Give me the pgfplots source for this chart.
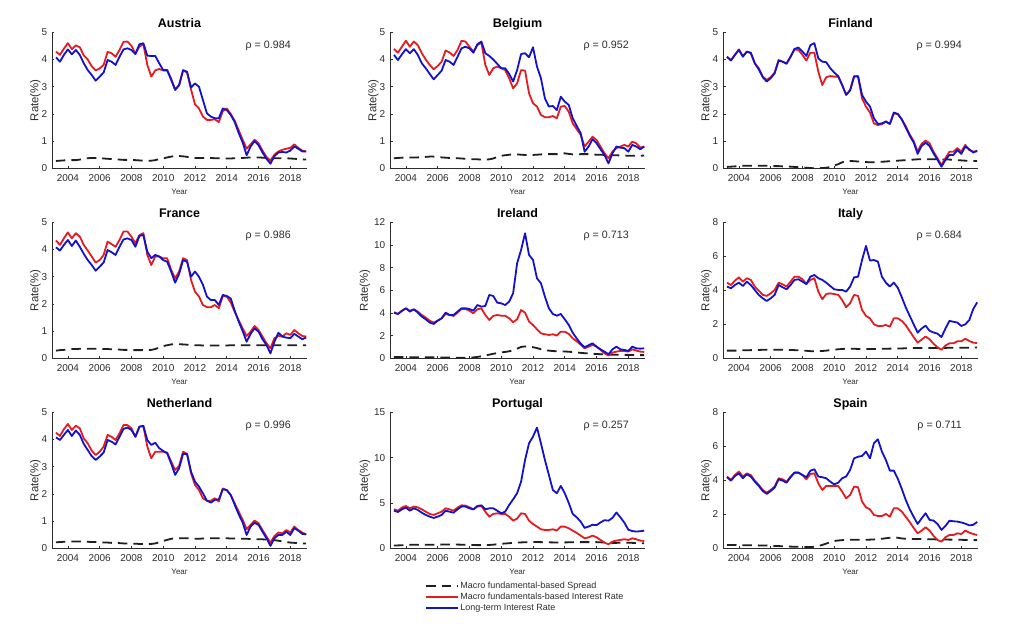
\documentclass[border=0pt]{standalone}
\usepackage{fontspec}
\setmainfont{Liberation Sans}
\usepackage{pgfplots}
\pgfplotsset{compat=1.18}
\usepackage{pgfplotstable}
\definecolor{myred}{RGB}{228,28,32}
\definecolor{myblue}{RGB}{18,18,205}
\definecolor{axgray}{RGB}{45,45,45}

\pgfplotstableread{
x s m l
2003.25 0.27 4.29 4.08
2003.5 0.28 4.17 3.92
2003.75 0.29 4.40 4.17
2004 0.30 4.60 4.37
2004.25 0.30 4.38 4.19
2004.5 0.30 4.52 4.35
2004.75 0.32 4.45 4.17
2005 0.35 4.15 3.86
2005.25 0.37 4.00 3.61
2005.5 0.38 3.75 3.43
2005.75 0.38 3.60 3.22
2006 0.38 3.67 3.37
2006.25 0.36 3.80 3.52
2006.5 0.35 4.28 3.98
2006.75 0.34 4.23 3.92
2007 0.33 4.10 3.80
2007.25 0.32 4.35 4.10
2007.5 0.31 4.65 4.37
2007.75 0.31 4.66 4.41
2008 0.30 4.50 4.35
2008.25 0.30 4.22 4.20
2008.5 0.29 4.47 4.56
2008.75 0.28 4.57 4.60
2009 0.28 3.80 4.14
2009.25 0.28 3.37 4.13
2009.5 0.30 3.60 4.13
2009.75 0.34 3.65 3.86
2010 0.36 3.60 3.61
2010.25 0.40 3.60 3.61
2010.5 0.43 3.30 3.25
2010.75 0.45 2.90 2.88
2011 0.45 3.05 3.06
2011.25 0.44 3.60 3.61
2011.5 0.42 3.52 3.55
2011.75 0.40 2.90 2.97
2012 0.38 2.35 3.12
2012.25 0.38 2.20 3.00
2012.5 0.38 1.90 2.51
2012.75 0.38 1.78 2.02
2013 0.38 1.78 1.90
2013.25 0.37 1.80 1.84
2013.5 0.37 1.70 1.84
2013.75 0.36 2.10 2.20
2014 0.36 2.20 2.14
2014.25 0.36 2.00 1.96
2014.5 0.37 1.75 1.70
2014.75 0.37 1.40 1.30
2015 0.38 1.05 0.95
2015.25 0.39 0.72 0.48
2015.5 0.40 0.88 0.80
2015.75 0.40 1.05 1.00
2016 0.40 0.92 0.85
2016.25 0.39 0.65 0.58
2016.5 0.38 0.42 0.35
2016.75 0.37 0.28 0.17
2017 0.37 0.50 0.45
2017.25 0.37 0.62 0.58
2017.5 0.37 0.68 0.60
2017.75 0.37 0.72 0.58
2018 0.36 0.75 0.65
2018.25 0.35 0.88 0.80
2018.5 0.34 0.75 0.72
2018.75 0.33 0.65 0.62
2019 0.32 0.62 0.62
}\tabAT

\pgfplotstableread{
x s m l
2003.25 0.37 4.39 4.17
2003.5 0.38 4.25 3.98
2003.75 0.39 4.47 4.19
2004 0.40 4.69 4.38
2004.25 0.40 4.47 4.23
2004.5 0.40 4.66 4.38
2004.75 0.40 4.53 4.17
2005 0.41 4.23 3.86
2005.25 0.42 4.00 3.68
2005.5 0.43 3.80 3.47
2005.75 0.43 3.64 3.27
2006 0.42 3.76 3.43
2006.25 0.40 3.92 3.59
2006.5 0.39 4.33 3.98
2006.75 0.38 4.26 3.92
2007 0.38 4.13 3.80
2007.25 0.37 4.35 4.10
2007.5 0.36 4.69 4.41
2007.75 0.35 4.66 4.47
2008 0.34 4.47 4.41
2008.25 0.33 4.29 4.25
2008.5 0.33 4.53 4.56
2008.75 0.32 4.62 4.66
2009 0.32 3.80 4.23
2009.25 0.33 3.43 4.13
2009.5 0.36 3.68 4.00
2009.75 0.42 3.74 3.84
2010 0.46 3.68 3.68
2010.25 0.48 3.61 3.68
2010.5 0.50 3.31 3.47
2010.75 0.51 2.94 3.19
2011 0.51 3.12 3.61
2011.25 0.50 3.61 4.20
2011.5 0.49 3.59 4.23
2011.75 0.48 2.76 4.08
2012 0.49 2.39 4.45
2012.25 0.50 2.27 3.74
2012.5 0.51 1.96 3.31
2012.75 0.52 1.88 2.57
2013 0.52 1.88 2.27
2013.25 0.52 1.92 2.29
2013.5 0.52 1.84 2.14
2013.75 0.53 2.27 2.63
2014 0.55 2.29 2.45
2014.25 0.53 2.08 2.33
2014.5 0.51 1.65 1.84
2014.75 0.51 1.44 1.56
2015 0.52 1.23 1.29
2015.25 0.52 0.80 0.61
2015.5 0.52 0.98 0.80
2015.75 0.51 1.16 1.07
2016 0.50 1.04 0.92
2016.25 0.50 0.80 0.70
2016.5 0.49 0.55 0.49
2016.75 0.49 0.37 0.18
2017 0.48 0.61 0.55
2017.25 0.48 0.74 0.80
2017.5 0.47 0.80 0.76
2017.75 0.47 0.86 0.74
2018 0.46 0.80 0.61
2018.25 0.46 0.98 0.86
2018.5 0.46 0.92 0.80
2018.75 0.46 0.76 0.70
2019 0.47 0.80 0.80
}\tabBE

\pgfplotstableread{
x s m l
2003.25 0.05 4.10 4.10
2003.5 0.06 3.98 3.96
2003.75 0.07 4.17 4.17
2004 0.08 4.37 4.35
2004.25 0.09 4.13 4.10
2004.5 0.09 4.29 4.29
2004.75 0.09 4.23 4.25
2005 0.09 3.86 3.86
2005.25 0.09 3.68 3.64
2005.5 0.09 3.37 3.35
2005.75 0.09 3.25 3.19
2006 0.09 3.35 3.31
2006.25 0.08 3.52 3.49
2006.5 0.08 3.98 3.96
2006.75 0.07 3.92 3.92
2007 0.07 3.86 3.84
2007.25 0.06 4.10 4.10
2007.5 0.05 4.37 4.39
2007.75 0.04 4.35 4.44
2008 0.03 4.17 4.29
2008.25 0.02 3.96 4.13
2008.5 0.01 4.25 4.53
2008.75 0.00 4.25 4.60
2009 0.00 3.55 4.04
2009.25 0.01 3.06 3.92
2009.5 0.02 3.35 3.90
2009.75 0.05 3.39 3.68
2010 0.10 3.37 3.52
2010.25 0.15 3.37 3.39
2010.5 0.22 3.06 3.06
2010.75 0.27 2.70 2.70
2011 0.27 2.88 2.86
2011.25 0.26 3.39 3.37
2011.5 0.25 3.37 3.39
2011.75 0.24 2.57 2.70
2012 0.23 2.27 2.45
2012.25 0.22 2.05 2.27
2012.5 0.22 1.65 1.84
2012.75 0.23 1.59 1.63
2013 0.24 1.62 1.65
2013.25 0.25 1.72 1.72
2013.5 0.26 1.63 1.63
2013.75 0.27 2.02 2.05
2014 0.28 1.99 2.00
2014.25 0.29 1.80 1.80
2014.5 0.30 1.55 1.50
2014.75 0.31 1.25 1.20
2015 0.32 1.00 0.95
2015.25 0.33 0.62 0.53
2015.5 0.33 0.90 0.82
2015.75 0.33 1.02 0.94
2016 0.33 0.92 0.82
2016.25 0.33 0.61 0.55
2016.5 0.33 0.37 0.31
2016.75 0.33 0.12 0.06
2017 0.32 0.37 0.31
2017.25 0.32 0.61 0.49
2017.5 0.31 0.61 0.49
2017.75 0.30 0.74 0.67
2018 0.29 0.61 0.53
2018.25 0.28 0.86 0.80
2018.5 0.28 0.67 0.70
2018.75 0.27 0.61 0.58
2019 0.27 0.62 0.65
}\tabFI

\pgfplotstableread{
x s m l
2003.25 0.28 4.33 4.08
2003.5 0.30 4.17 3.96
2003.75 0.31 4.41 4.17
2004 0.33 4.63 4.35
2004.25 0.34 4.41 4.13
2004.5 0.34 4.60 4.33
2004.75 0.35 4.47 4.10
2005 0.35 4.17 3.84
2005.25 0.35 3.96 3.61
2005.5 0.35 3.74 3.43
2005.75 0.35 3.52 3.22
2006 0.35 3.61 3.37
2006.25 0.34 3.80 3.52
2006.5 0.34 4.29 3.98
2006.75 0.33 4.20 3.90
2007 0.33 4.10 3.80
2007.25 0.32 4.35 4.10
2007.5 0.31 4.66 4.37
2007.75 0.31 4.66 4.41
2008 0.30 4.47 4.35
2008.25 0.30 4.23 4.10
2008.5 0.30 4.53 4.50
2008.75 0.30 4.60 4.53
2009 0.30 3.80 3.92
2009.25 0.31 3.43 3.68
2009.5 0.34 3.74 3.80
2009.75 0.40 3.74 3.74
2010 0.45 3.68 3.61
2010.25 0.48 3.68 3.55
2010.5 0.51 3.25 3.19
2010.75 0.52 2.94 2.78
2011 0.52 3.19 3.10
2011.25 0.51 3.68 3.61
2011.5 0.50 3.61 3.55
2011.75 0.49 2.88 3.00
2012 0.48 2.45 3.19
2012.25 0.48 2.27 3.00
2012.5 0.47 1.96 2.70
2012.75 0.47 1.88 2.27
2013 0.47 1.88 2.14
2013.25 0.47 1.96 2.14
2013.5 0.47 1.84 1.96
2013.75 0.47 2.29 2.33
2014 0.47 2.27 2.29
2014.25 0.48 2.05 2.20
2014.5 0.48 1.70 1.75
2014.75 0.48 1.40 1.35
2015 0.48 1.10 1.00
2015.25 0.48 0.82 0.61
2015.5 0.48 0.98 0.90
2015.75 0.48 1.19 1.10
2016 0.48 1.04 0.98
2016.25 0.48 0.80 0.70
2016.5 0.48 0.55 0.49
2016.75 0.48 0.37 0.18
2017 0.48 0.74 0.61
2017.25 0.48 0.82 0.94
2017.5 0.48 0.80 0.80
2017.75 0.48 0.92 0.76
2018 0.48 0.86 0.74
2018.25 0.48 1.04 0.90
2018.5 0.48 0.92 0.80
2018.75 0.48 0.82 0.70
2019 0.48 0.80 0.77
}\tabFR

\pgfplotstableread{
x s m l
2003.25 0.12 4.06 4.03
2003.5 0.12 3.91 3.91
2003.75 0.11 4.20 4.18
2004 0.10 4.41 4.41
2004.25 0.10 4.20 4.12
2004.5 0.09 4.32 4.32
2004.75 0.09 4.12 4.03
2005 0.08 3.82 3.68
2005.25 0.08 3.59 3.44
2005.5 0.08 3.32 3.15
2005.75 0.08 3.15 3.03
2006 0.08 3.32 3.32
2006.25 0.07 3.53 3.53
2006.5 0.07 3.91 4.03
2006.75 0.06 3.82 3.82
2007 0.05 3.74 3.82
2007.25 0.05 4.03 4.12
2007.5 0.05 4.35 4.41
2007.75 0.05 4.35 4.41
2008 0.06 4.20 4.35
2008.25 0.08 3.97 4.20
2008.5 0.12 4.32 4.70
2008.75 0.18 4.41 4.56
2009 0.25 3.82 4.62
2009.25 0.32 3.38 5.59
2009.5 0.40 3.74 5.50
2009.75 0.46 3.82 4.91
2010 0.52 3.76 4.85
2010.25 0.56 3.76 4.70
2010.5 0.62 3.53 5.00
2010.75 0.72 3.18 5.74
2011 0.85 3.44 8.38
2011.25 1.00 4.26 9.56
2011.5 1.05 4.03 11.03
2011.75 1.02 3.24 9.12
2012 0.98 2.94 8.68
2012.25 0.90 2.56 7.06
2012.5 0.80 2.20 6.62
2012.75 0.72 2.12 5.44
2013 0.68 2.06 4.41
2013.25 0.64 2.12 3.91
2013.5 0.62 2.00 3.76
2013.75 0.61 2.35 3.91
2014 0.60 2.35 3.44
2014.25 0.58 2.15 2.94
2014.5 0.55 1.76 2.26
2014.75 0.51 1.50 1.75
2015 0.48 1.20 1.30
2015.25 0.45 0.88 0.97
2015.5 0.43 1.03 1.15
2015.75 0.40 1.18 1.32
2016 0.38 1.03 1.03
2016.25 0.36 0.74 0.79
2016.5 0.34 0.44 0.59
2016.75 0.33 0.24 0.35
2017 0.32 0.50 0.79
2017.25 0.31 0.59 1.03
2017.5 0.30 0.65 0.79
2017.75 0.30 0.65 0.74
2018 0.30 0.59 0.65
2018.25 0.29 0.79 1.03
2018.5 0.29 0.68 0.88
2018.75 0.28 0.59 0.85
2019 0.28 0.56 0.88
}\tabIE

\pgfplotstableread{
x s m l
2003.25 0.45 4.45 4.22
2003.5 0.45 4.31 4.12
2003.75 0.45 4.57 4.31
2004 0.46 4.76 4.45
2004.25 0.47 4.51 4.25
2004.5 0.47 4.71 4.51
2004.75 0.48 4.61 4.31
2005 0.48 4.22 4.02
2005.25 0.49 3.98 3.73
2005.5 0.50 3.73 3.53
2005.75 0.50 3.67 3.37
2006 0.50 3.82 3.53
2006.25 0.50 4.02 3.73
2006.5 0.50 4.45 4.31
2006.75 0.50 4.35 4.18
2007 0.50 4.22 4.06
2007.25 0.49 4.51 4.31
2007.5 0.48 4.80 4.61
2007.75 0.47 4.80 4.65
2008 0.46 4.65 4.51
2008.25 0.44 4.37 4.37
2008.5 0.42 4.61 4.80
2008.75 0.42 4.71 4.90
2009 0.42 3.92 4.71
2009.25 0.43 3.47 4.61
2009.5 0.45 3.78 4.45
2009.75 0.48 3.82 4.25
2010 0.51 3.78 4.06
2010.25 0.53 3.73 4.02
2010.5 0.55 3.43 4.02
2010.75 0.56 3.00 3.92
2011 0.56 3.24 4.22
2011.25 0.56 3.73 4.76
2011.5 0.55 3.67 4.80
2011.75 0.55 2.84 5.78
2012 0.55 2.49 6.61
2012.25 0.55 2.35 5.75
2012.5 0.55 2.00 5.78
2012.75 0.55 1.90 5.69
2013 0.56 1.90 4.80
2013.25 0.56 1.96 4.45
2013.5 0.57 1.86 4.22
2013.75 0.57 2.35 4.45
2014 0.58 2.35 4.15
2014.25 0.58 2.20 3.60
2014.5 0.59 1.95 3.00
2014.75 0.59 1.60 2.50
2015 0.60 1.25 2.00
2015.25 0.60 0.92 1.51
2015.5 0.60 1.10 1.75
2015.75 0.60 1.28 1.92
2016 0.60 1.12 1.62
2016.25 0.60 0.85 1.52
2016.5 0.61 0.65 1.45
2016.75 0.61 0.50 1.25
2017 0.61 0.75 1.75
2017.25 0.62 0.88 2.20
2017.5 0.62 0.88 2.15
2017.75 0.62 1.00 2.10
2018 0.62 1.00 1.90
2018.25 0.62 1.15 2.00
2018.5 0.62 1.02 2.25
2018.75 0.63 0.92 2.90
2019 0.63 0.90 3.29
}\tabIT

\pgfplotstableread{
x s m l
2003.25 0.22 4.25 4.08
2003.5 0.23 4.13 3.98
2003.75 0.24 4.38 4.17
2004 0.24 4.57 4.35
2004.25 0.25 4.35 4.13
2004.5 0.25 4.51 4.33
2004.75 0.25 4.41 4.17
2005 0.25 4.04 3.84
2005.25 0.24 3.86 3.61
2005.5 0.23 3.59 3.39
2005.75 0.23 3.43 3.25
2006 0.22 3.55 3.37
2006.25 0.21 3.74 3.52
2006.5 0.21 4.17 3.98
2006.75 0.20 4.10 3.92
2007 0.20 3.98 3.82
2007.25 0.19 4.23 4.10
2007.5 0.18 4.53 4.39
2007.75 0.18 4.53 4.44
2008 0.17 4.41 4.35
2008.25 0.17 4.10 4.10
2008.5 0.16 4.47 4.47
2008.75 0.16 4.50 4.50
2009 0.15 3.74 3.98
2009.25 0.16 3.31 3.80
2009.5 0.18 3.55 3.88
2009.75 0.22 3.55 3.68
2010 0.27 3.55 3.58
2010.25 0.31 3.52 3.49
2010.5 0.35 3.19 3.12
2010.75 0.37 2.88 2.70
2011 0.37 3.03 2.94
2011.25 0.37 3.55 3.47
2011.5 0.37 3.47 3.47
2011.75 0.36 2.76 2.82
2012 0.35 2.33 2.45
2012.25 0.35 2.14 2.27
2012.5 0.36 1.84 2.02
2012.75 0.36 1.75 1.75
2013 0.37 1.75 1.68
2013.25 0.37 1.84 1.78
2013.5 0.37 1.72 1.80
2013.75 0.37 2.20 2.17
2014 0.37 2.14 2.14
2014.25 0.36 1.96 1.96
2014.5 0.36 1.65 1.60
2014.75 0.35 1.35 1.25
2015 0.35 1.05 0.95
2015.25 0.35 0.70 0.49
2015.5 0.34 0.86 0.80
2015.75 0.34 1.02 0.94
2016 0.33 0.92 0.86
2016.25 0.33 0.67 0.61
2016.5 0.32 0.43 0.37
2016.75 0.31 0.21 0.09
2017 0.30 0.45 0.37
2017.25 0.28 0.58 0.49
2017.5 0.25 0.55 0.49
2017.75 0.23 0.67 0.61
2018 0.21 0.58 0.49
2018.25 0.20 0.80 0.74
2018.5 0.19 0.67 0.65
2018.75 0.18 0.58 0.53
2019 0.18 0.51 0.51
}\tabNL

\pgfplotstableread{
x s m l
2003.25 0.30 4.30 4.15
2003.5 0.32 4.15 4.00
2003.75 0.34 4.49 4.30
2004 0.36 4.67 4.49
2004.25 0.38 4.41 4.15
2004.5 0.40 4.60 4.41
2004.75 0.40 4.52 4.23
2005 0.40 4.30 3.93
2005.25 0.40 4.04 3.68
2005.5 0.40 3.79 3.49
2005.75 0.40 3.68 3.35
2006 0.40 3.86 3.49
2006.25 0.41 4.04 3.68
2006.5 0.42 4.41 4.15
2006.75 0.42 4.30 4.04
2007 0.42 4.15 3.93
2007.25 0.41 4.49 4.30
2007.5 0.40 4.74 4.60
2007.75 0.38 4.71 4.60
2008 0.37 4.52 4.41
2008.25 0.36 4.30 4.30
2008.5 0.35 4.60 4.67
2008.75 0.35 4.67 4.74
2009 0.35 4.04 4.30
2009.25 0.37 3.49 4.41
2009.5 0.40 3.79 4.41
2009.75 0.45 3.86 4.15
2010 0.50 3.79 3.86
2010.25 0.53 3.79 4.04
2010.5 0.56 3.49 4.78
2010.75 0.60 3.05 5.40
2011 0.63 3.27 6.07
2011.25 0.65 3.86 7.35
2011.5 0.67 3.79 9.74
2011.75 0.68 3.05 11.58
2012 0.70 2.68 12.32
2012.25 0.69 2.39 13.31
2012.5 0.68 2.10 11.58
2012.75 0.67 2.02 9.74
2013 0.66 2.02 8.09
2013.25 0.65 2.10 6.43
2013.5 0.65 1.95 6.07
2013.75 0.65 2.39 6.88
2014 0.65 2.39 6.07
2014.25 0.66 2.21 5.00
2014.5 0.66 1.95 3.79
2014.75 0.67 1.70 3.42
2015 0.68 1.40 2.94
2015.25 0.68 1.10 2.25
2015.5 0.68 1.21 2.40
2015.75 0.68 1.40 2.60
2016 0.68 1.21 2.55
2016.25 0.66 0.92 2.85
2016.5 0.64 0.63 3.10
2016.75 0.62 0.44 3.05
2017 0.60 0.74 3.35
2017.25 0.60 0.85 3.95
2017.5 0.61 0.92 3.42
2017.75 0.62 1.00 2.83
2018 0.62 0.92 2.05
2018.25 0.60 1.10 1.90
2018.5 0.58 1.00 1.85
2018.75 0.56 0.85 1.88
2019 0.55 0.81 1.95
}\tabPT

\pgfplotstableread{
x s m l
2003.25 0.20 4.22 4.18
2003.5 0.19 4.02 3.98
2003.75 0.19 4.31 4.25
2004 0.18 4.51 4.41
2004.25 0.18 4.22 4.12
2004.5 0.18 4.41 4.35
2004.75 0.18 4.31 4.22
2005 0.18 3.98 3.92
2005.25 0.17 3.73 3.67
2005.5 0.16 3.43 3.37
2005.75 0.16 3.27 3.20
2006 0.15 3.43 3.37
2006.25 0.14 3.63 3.57
2006.5 0.13 4.12 4.06
2006.75 0.12 4.06 3.98
2007 0.11 3.92 3.86
2007.25 0.10 4.22 4.18
2007.5 0.09 4.45 4.45
2007.75 0.09 4.45 4.45
2008 0.08 4.31 4.31
2008.25 0.08 4.06 4.18
2008.5 0.07 4.37 4.57
2008.75 0.09 4.41 4.65
2009 0.13 3.82 4.22
2009.25 0.20 3.43 4.18
2009.5 0.28 3.67 4.12
2009.75 0.36 3.67 3.92
2010 0.43 3.67 3.76
2010.25 0.46 3.67 3.86
2010.5 0.48 3.33 4.12
2010.75 0.49 2.94 4.22
2011 0.50 3.14 4.61
2011.25 0.50 3.63 5.29
2011.5 0.50 3.59 5.39
2011.75 0.50 2.75 5.43
2012 0.50 2.41 5.69
2012.25 0.51 2.29 5.29
2012.5 0.52 1.96 6.18
2012.75 0.54 1.90 6.41
2013 0.56 1.90 5.69
2013.25 0.59 2.02 5.20
2013.5 0.62 1.86 4.57
2013.75 0.65 2.35 4.57
2014 0.62 2.35 4.10
2014.25 0.58 2.16 3.50
2014.5 0.56 1.85 2.85
2014.75 0.55 1.55 2.30
2015 0.55 1.20 1.85
2015.25 0.55 0.88 1.43
2015.5 0.54 1.04 1.76
2015.75 0.54 1.24 2.06
2016 0.53 1.04 1.67
2016.25 0.53 0.73 1.63
2016.5 0.52 0.49 1.43
2016.75 0.52 0.39 1.08
2017 0.52 0.65 1.31
2017.25 0.51 0.78 1.62
2017.5 0.51 0.78 1.59
2017.75 0.50 0.88 1.57
2018 0.50 0.84 1.52
2018.25 0.49 1.04 1.45
2018.5 0.49 0.92 1.35
2018.75 0.48 0.84 1.38
2019 0.48 0.78 1.55
}\tabES

\pgfplotsset{
  panel/.style={
    scale only axis, width=255pt, height=136pt,
    xmin=2003.0, xmax=2019.05, ymin=0,
    axis x line*=bottom, axis y line*=left,
    axis line style={axgray, line width=0.6pt},
    xtick={2004,2006,2008,2010,2012,2014,2016,2018},
    xticklabels={2004,2006,2008,2010,2012,2014,2016,2018},
    tick align=inside, major tick length=2.5pt,
    tick style={axgray, line width=0.6pt},
    /pgf/number format/assume math mode=true,
    tick label style={font=\fontsize{10}{12}\selectfont, text=axgray},
    xticklabel style={yshift=-3pt},
    yticklabel style={xshift=-1.2pt},
    xlabel={Year}, ylabel={Rate(\%)},
    xlabel style={font=\fontsize{8}{9}\selectfont, text=axgray, at={(axis description cs:0.5,0)}, anchor=center, yshift=-23pt},
    ylabel style={font=\fontsize{11.4}{13}\selectfont, text=axgray},
    ylabel shift=-6pt,
    title style={font=\bfseries\fontsize{12.5}{14}\selectfont, at={(axis description cs:0.5,1)}, anchor=base, yshift=-1.5pt, inner sep=0pt},
    every axis plot/.append style={line width=1.8pt, line join=round},
  },
  spr/.style={black!88, dash pattern=on 9.5pt off 6pt},
  mac/.style={myred},
  lt/.style={myblue},
}
\newcommand{\rholab}[1]{\node[anchor=east, font=\fontsize{10.7}{12}\selectfont, text=axgray] at (rel axis cs:0.95,0.9) {ρ = #1};}

\begin{document}
\begin{tikzpicture}
\path[use as bounding box] (0pt,0pt) rectangle (1024pt,623pt);

% Row 1
\begin{axis}[panel, at={(52pt,454.7pt)}, anchor=south west, title={Austria}, ymax=5, ytick={0,1,2,3,4,5}]
\addplot[spr] table[x=x,y=s]{\tabAT};
\addplot[mac] table[x=x,y=m]{\tabAT};
\addplot[lt] table[x=x,y=l]{\tabAT};
\rholab{0.984}
\end{axis}
\begin{axis}[panel, at={(390pt,454.7pt)}, anchor=south west, title={Belgium}, ymax=5, ytick={0,1,2,3,4,5}]
\addplot[spr] table[x=x,y=s]{\tabBE};
\addplot[mac] table[x=x,y=m]{\tabBE};
\addplot[lt] table[x=x,y=l]{\tabBE};
\rholab{0.952}
\end{axis}
\begin{axis}[panel, at={(723pt,454.7pt)}, anchor=south west, title={Finland}, ymax=5, ytick={0,1,2,3,4,5}]
\addplot[spr] table[x=x,y=s]{\tabFI};
\addplot[mac] table[x=x,y=m]{\tabFI};
\addplot[lt] table[x=x,y=l]{\tabFI};
\rholab{0.994}
\end{axis}

% Row 2
\begin{axis}[panel, at={(52pt,264.7pt)}, anchor=south west, title={France}, ymax=5, ytick={0,1,2,3,4,5}]
\addplot[spr] table[x=x,y=s]{\tabFR};
\addplot[mac] table[x=x,y=m]{\tabFR};
\addplot[lt] table[x=x,y=l]{\tabFR};
\rholab{0.986}
\end{axis}
\begin{axis}[panel, at={(390pt,264.7pt)}, anchor=south west, title={Ireland}, ymax=12, ytick={0,2,4,6,8,10,12}, ylabel shift=-3pt]
\addplot[spr] table[x=x,y=s]{\tabIE};
\addplot[mac] table[x=x,y=m]{\tabIE};
\addplot[lt] table[x=x,y=l]{\tabIE};
\rholab{0.713}
\end{axis}
\begin{axis}[panel, at={(723pt,264.7pt)}, anchor=south west, title={Italy}, ymax=8, ytick={0,2,4,6,8}]
\addplot[spr] table[x=x,y=s]{\tabIT};
\addplot[mac] table[x=x,y=m]{\tabIT};
\addplot[lt] table[x=x,y=l]{\tabIT};
\rholab{0.684}
\end{axis}

% Row 3
\begin{axis}[panel, at={(52pt,74.7pt)}, anchor=south west, title={Netherland}, ymax=5, ytick={0,1,2,3,4,5}]
\addplot[spr] table[x=x,y=s]{\tabNL};
\addplot[mac] table[x=x,y=m]{\tabNL};
\addplot[lt] table[x=x,y=l]{\tabNL};
\rholab{0.996}
\end{axis}
\begin{axis}[panel, at={(390pt,74.7pt)}, anchor=south west, title={Portugal}, ymax=15, ytick={0,5,10,15}, ylabel shift=-3pt,
  legend cell align=left,
  legend style={at={(axis description cs:0.138,-0.235)}, anchor=north west, draw=none, fill=none,
    font=\fontsize{9}{10.5}\selectfont, text=axgray, row sep=0.8pt, inner sep=0pt,
    nodes={inner sep=1.2pt}},
  legend image code/.code={\draw[line width=1.8pt,#1] (0pt,0pt) -- (32pt,0pt);}]
\addplot[spr] table[x=x,y=s]{\tabPT};
\addlegendentry{Macro fundamental-based Spread}
\addplot[mac] table[x=x,y=m]{\tabPT};
\addlegendentry{Macro fundamentals-based Interest Rate}
\addplot[lt] table[x=x,y=l]{\tabPT};
\addlegendentry{Long-term Interest Rate}
\rholab{0.257}
\end{axis}
\begin{axis}[panel, at={(723pt,74.7pt)}, anchor=south west, title={Spain}, ymax=8, ytick={0,2,4,6,8}]
\addplot[spr] table[x=x,y=s]{\tabES};
\addplot[mac] table[x=x,y=m]{\tabES};
\addplot[lt] table[x=x,y=l]{\tabES};
\rholab{0.711}
\end{axis}
\end{tikzpicture}
\end{document}
